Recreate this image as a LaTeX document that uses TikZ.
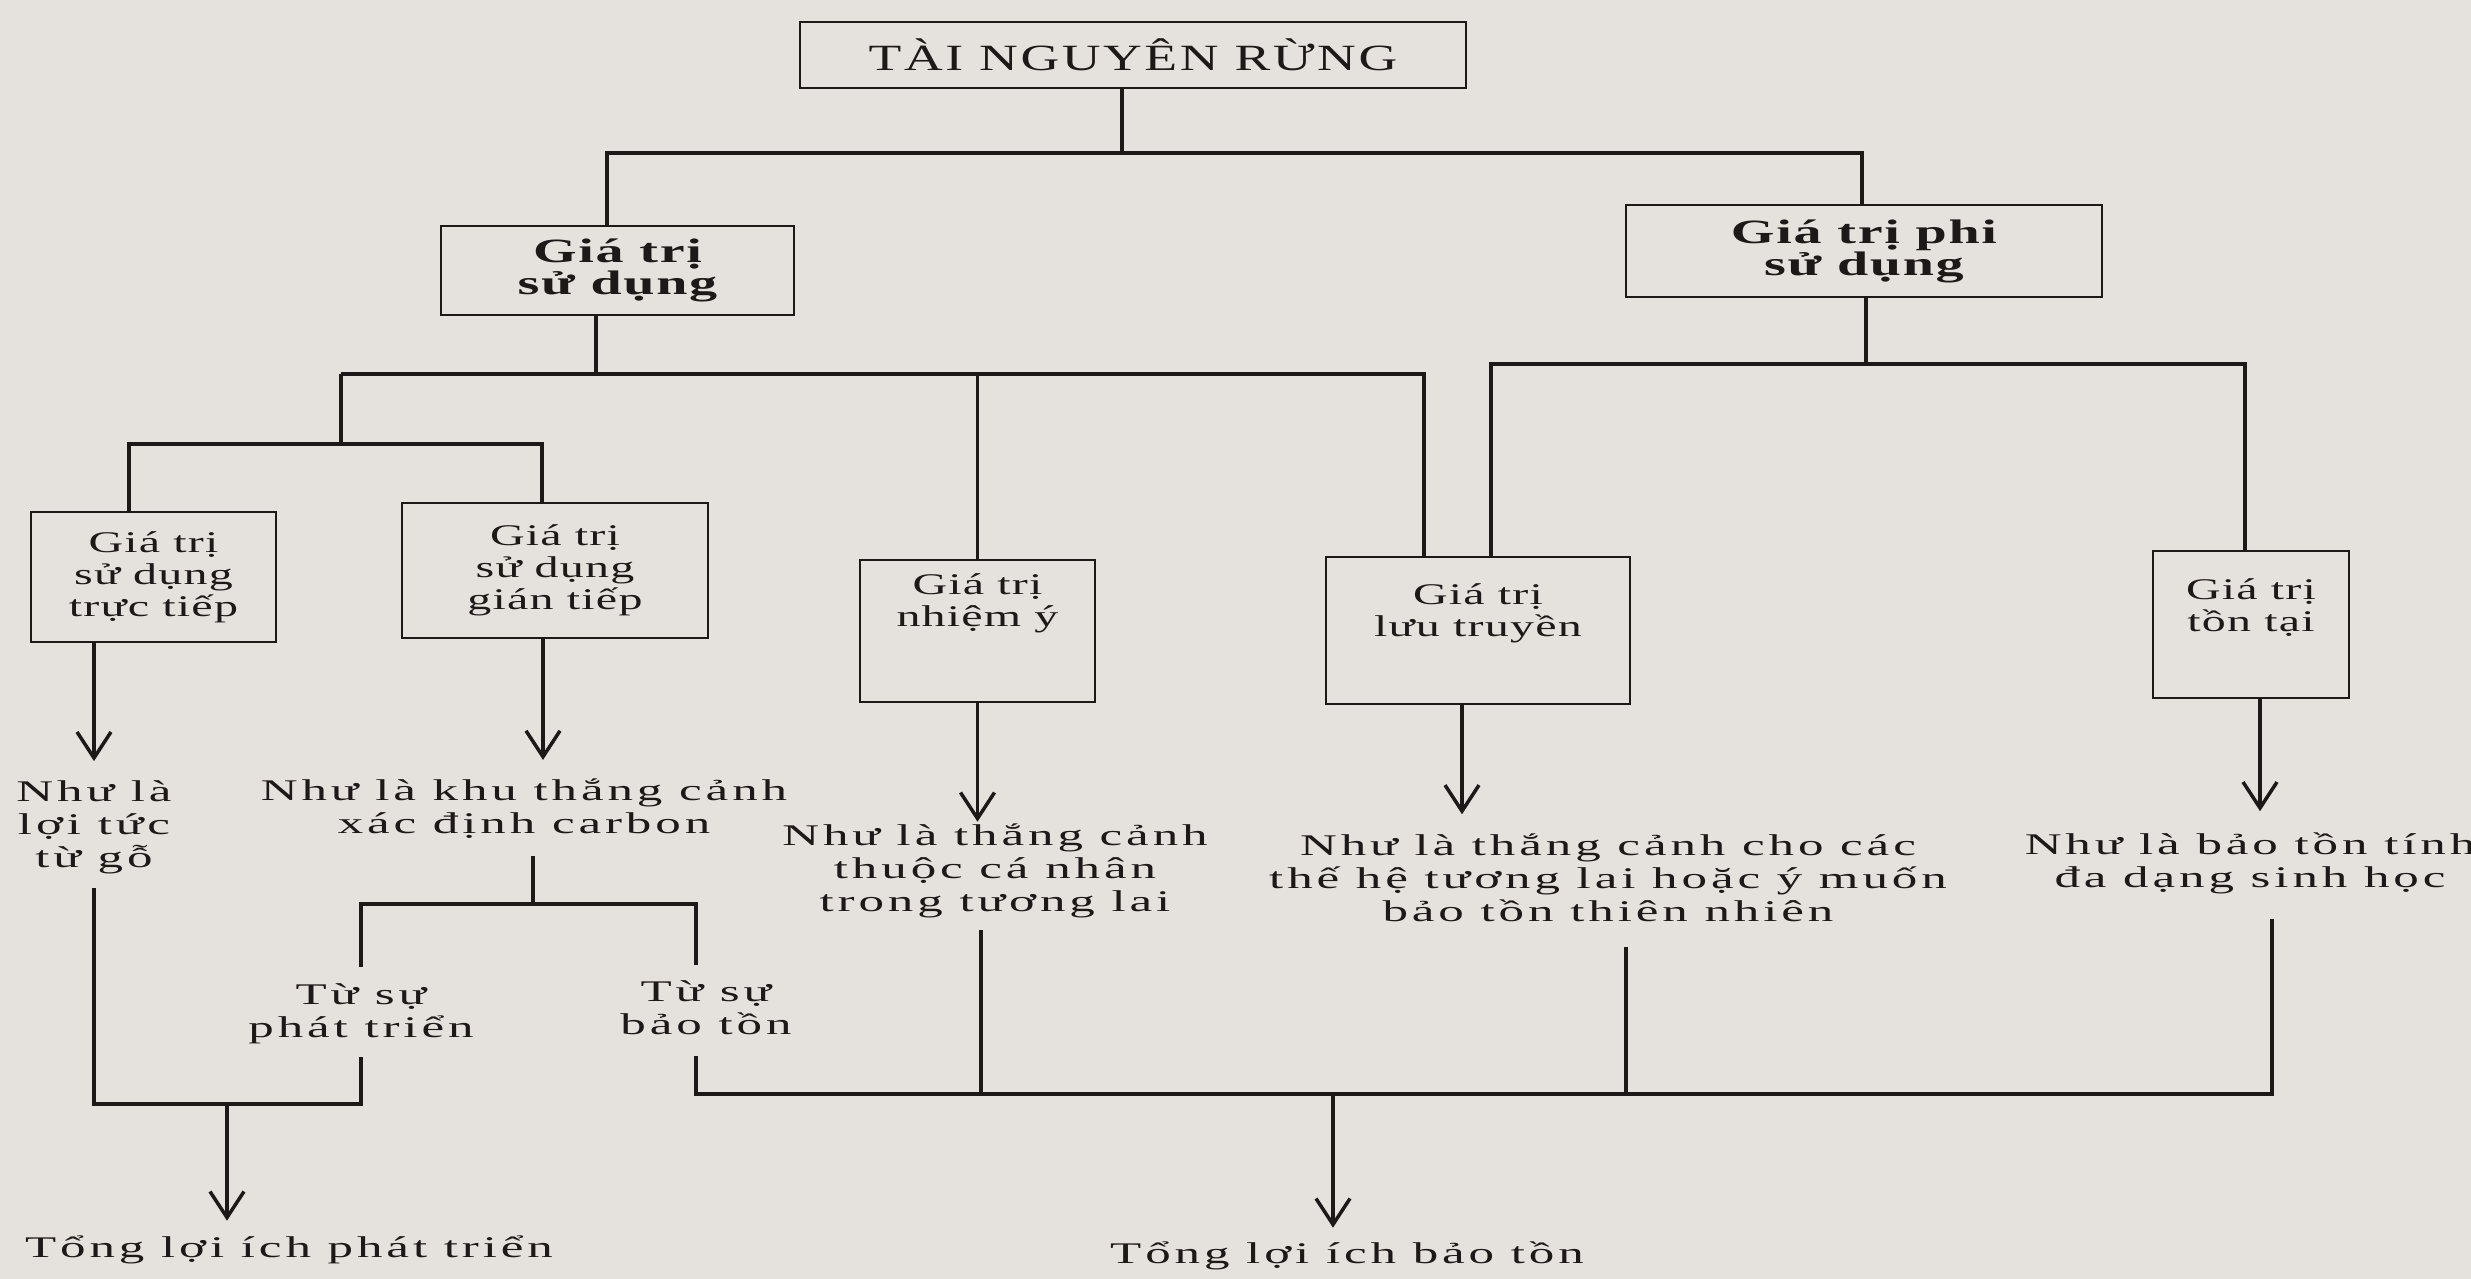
\documentclass[tikz,border=0pt]{standalone}
\usepackage{fontspec}
\setmainfont{Liberation Serif}
\newfontfamily\freefont{Liberation Serif}[FakeStretch=1.7,LetterSpace=13]
\newfontfamily\boxfont{Liberation Serif}[FakeStretch=1.6,LetterSpace=4]
\newfontfamily\boldfont{Liberation Serif}[FakeStretch=1.65,LetterSpace=5]
\newfontfamily\topfont{Liberation Serif}[FakeStretch=1.45,LetterSpace=7]
\usetikzlibrary{arrows.meta,calc}
\definecolor{paper}{RGB}{229,225,221}
\definecolor{ink}{RGB}{30,25,25}
\begin{document}
\begin{tikzpicture}[x=1pt,y=-1pt,
  box/.style={draw=ink, line width=2.8pt, inner sep=0pt, align=center, text=ink,
    font=\boxfont\fontsize{30}{32}\selectfont},
  boldbox/.style={box, font=\boldfont\bfseries\fontsize{34}{32}\selectfont},
  boxlbl/.style={inner sep=0pt, align=center, text=ink, font=\boxfont\fontsize{30}{32}\selectfont},
  ft/.style={inner sep=0pt, align=center, text=ink, font=\freefont\fontsize{30}{33}\selectfont},
  conn/.style={draw=ink, line width=3.5pt},
  arr/.style={conn, -{Straight Barb[length=26pt,width=34pt]}}
]
\useasboundingbox (0,0) rectangle (2471,1279);
\fill[paper] (0,0) rectangle (2471,1279);

% boxes
\node[box, minimum width=666pt, minimum height=66pt, font=\topfont\fontsize{37}{37}\selectfont] (top) at (1133,55) {TÀI NGUYÊN RỪNG};
\node[boldbox, minimum width=353pt, minimum height=89pt] (sd) at (617.5,270.5) {Giá trị\\sử dụng};
\node[boldbox, minimum width=476pt, minimum height=92pt] (phi) at (1864,251) {Giá trị phi\\sử dụng};
\node[box, minimum width=245pt, minimum height=130pt] (tt) at (153.5,577) {Giá trị\\sử dụng\\trực tiếp};
\node[box, minimum width=306pt, minimum height=135pt] (gt) at (555,570.5) {Giá trị\\sử dụng\\gián tiếp};
\node[box, minimum width=235pt, minimum height=142pt,
  label={[boxlbl, yshift=28pt]center:{Giá trị\\nhiệm ý}}] (ny) at (977.5,631) {};
\node[box, minimum width=304pt, minimum height=147pt,
  label={[boxlbl, yshift=17pt]center:{Giá trị\\lưu truyền}}] (lt) at (1478,630.5) {};
\node[box, minimum width=196pt, minimum height=147pt,
  label={[boxlbl, yshift=17pt]center:{Giá trị\\tồn tại}}] (ton) at (2251,624.5) {};

% free texts
\node[ft] (tgo) at (94,827.5) {Như là\\lợi tức\\từ gỗ};
\node[ft] (tcarb) at (524,809) {Như là khu thắng cảnh\\xác định carbon};
\node[ft] (tny) at (995,871) {Như là thắng cảnh\\thuộc cá nhân\\trong tương lai};
\node[ft] (tlt) at (1608,877.5) {Như là thắng cảnh cho các\\thế hệ tương lai hoặc ý muốn\\bảo tồn thiên nhiên};
\node[ft] (tton) at (2250,863) {Như là bảo tồn tính\\đa dạng sinh học};
\node[ft] (tpt) at (361,1013.5) {Từ sự\\phát triển};
\node[ft] (tbt) at (706,1008) {Từ sự\\bảo tồn};
\node[ft] (tdev) at (289,1250) {Tổng lợi ích phát triển};
\node[ft] (tcons) at (1347,1256) {Tổng lợi ích bảo tồn};

% top level
\coordinate (j0) at (1122,153);
\coordinate (bL) at (607,153);
\coordinate (bR) at (1862,153);
\draw[conn] (top.south -| j0) -- (j0);
\draw[conn] (sd.north -| bL) |- (bR) -- (phi.north -| bR);

% use branch
\coordinate (u0) at (596,374);
\coordinate (uL) at (341,374);
\coordinate (uR) at (1424,374);
\draw[conn] (sd.south -| u0) -- (u0);
\draw[conn] (uL) -- (uR) -- (uR |- lt.north);
\draw[conn] (ny.north |- uL) -- (ny.north);
\coordinate (s0) at (341,444);
\coordinate (sL) at (129,444);
\coordinate (sR) at (542,444);
\draw[conn] (uL) -- (s0);
\draw[conn] (tt.north -| sL) |- (sR) -- (gt.north -| sR);

% non-use branch
\coordinate (p0) at (1866,364);
\coordinate (pL) at (1491,364);
\coordinate (pR) at (2245,364);
\draw[conn] (phi.south -| p0) -- (p0);
\draw[conn] (lt.north -| pL) |- (pR) -- (ton.north -| pR);

% arrows to texts
\draw[arr] (tt.south -| tgo.north) -- ($(tgo.north)+(0,-19.5)$);
\draw[arr] ($(gt.south)+(-12,0)$) -- ($(tcarb.north -| gt.south)+(-12,-19)$);
\draw[arr] (ny.south) -- ($(tny.north -| ny.south)+(0,-2)$);
\draw[arr] ($(lt.south)+(-16,0)$) -- ($(tlt.north -| lt.south)+(-16,-19)$);
\draw[arr] ($(ton.south)+(9,0)$) -- ($(tton.north -| ton.south)+(9,-21)$);

% development total
\coordinate (d0) at (227,1104);
\draw[conn] ($(tgo.south)+(0,13.5)$) |- (d0) -| ($(tpt.south)+(0,13.5)$);
\draw[arr] (d0) -- ($(d0 |- tdev.north)+(0,-15)$);

% carbon split
\coordinate (c0) at (533,904);
\draw[conn] ($(tcarb.south)+(9,17)$) -- (c0);
\draw[conn] ($(tpt.north)+(0,-16)$) |- (c0) -| ($(tbt.north)+(-10,-16)$);

% conservation total
\coordinate (e0) at (1333,1094);
\draw[conn] ($(tbt.south)+(-10,21)$) |- (e0) -| ($(tton.south)+(22,25.5)$);
\draw[conn] ($(tny.south)+(-14,11.5)$) |- (e0);
\draw[conn] ($(tlt.south)+(18,25)$) |- (e0);
\draw[arr] (e0) -- ($(e0 |- tcons.north)+(0,-14)$);
\end{tikzpicture}
\end{document}
